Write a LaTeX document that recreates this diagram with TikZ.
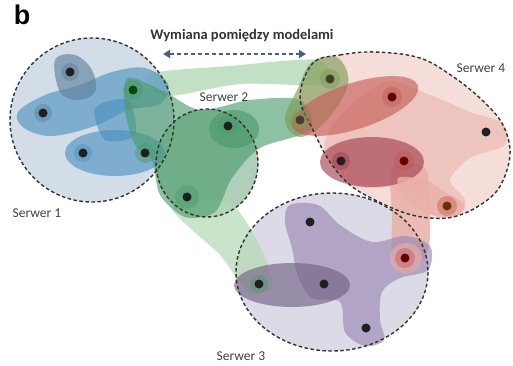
\documentclass[tikz,border=0pt]{standalone}
\usepackage{fontspec}
\setmainfont{Carlito}
\newfontfamily\bfam{Liberation Sans}
\usetikzlibrary{arrows.meta}
\definecolor{bgone}{HTML}{D3DDE8}
\definecolor{bgtwo}{HTML}{AFCFBB}
\definecolor{bgthree}{HTML}{DCDAE6}
\definecolor{bgfour}{HTML}{F5DDD9}
\definecolor{mblue}{HTML}{4A90BF}
\definecolor{msteel}{HTML}{5D7F9C}
\definecolor{mgreen}{HTML}{4A9A6C}
\definecolor{lgreen}{HTML}{B3D9B5}
\definecolor{molive}{HTML}{7D9A52}
\definecolor{mred}{HTML}{C45A55}
\definecolor{mpink}{HTML}{EAB0A8}
\definecolor{mcrim}{HTML}{A03A4C}
\definecolor{mpurp}{HTML}{9983B0}
\definecolor{dpurp}{HTML}{6F5F82}
\definecolor{arrowc}{HTML}{4F5F78}
\tikzset{
  srv/.style={draw=black!80, line width=1.4pt, dash pattern=on 3.5pt off 2.5pt},
  blob/.style={fill=#1, fill opacity=0.62},
  dot/.style={circle, fill=black!88, inner sep=0pt, minimum size=9pt},
  halo/.style={fill=#1, fill opacity=0.45},
  lbl/.style={font=\fontsize{13.5}{15}\selectfont, text=black!75, inner sep=0pt}
}
\begin{document}
\begin{tikzpicture}[x=1pt,y=-1pt]
\useasboundingbox (0,0) rectangle (513,366);
\fill[white] (0,0) rectangle (513,366);

% coordinates
\coordinate (c1) at (92,120);
\coordinate (c2) at (207,163);
\coordinate (c3) at (332,272);
\def\srvfour{plot[smooth cycle, tension=0.6] coordinates {(313,63) (340,55) (375,52) (420,58) (455,78) (483,101) (503,125) (510,155) (499,188) (477,207) (453,217) (430,218) (405,213) (375,200) (350,185) (330,162) (313,130) (300,97)}}

% server backgrounds
\fill[bgone] (c1) circle [radius=82];
\fill[bgfour] \srvfour;
\fill[bgthree] (c3) ellipse [x radius=96, y radius=79];
\fill[bgtwo] (c2) ellipse [x radius=51, y radius=54];

% bands between servers
\fill[lgreen, fill opacity=0.8] plot[smooth cycle, tension=0.5] coordinates {(150,74) (230,66) (318,60) (322,84) (240,84) (165,96)};
\fill[lgreen, fill opacity=0.7] plot[smooth cycle, tension=0.4] coordinates {(172,208) (230,203) (262,250) (272,288) (248,292) (220,255)};
\fill[mpink, fill opacity=0.85] plot[smooth cycle, tension=0.5] coordinates {(392,168) (425,168) (430,215) (428,250) (412,272) (393,262) (392,215)};

% ---- Server 1 (blue) ----
\fill[blob=mblue] plot[smooth cycle, tension=0.6] coordinates {(18,112) (45,95) (80,85) (112,72) (145,68) (168,84) (160,104) (128,110) (95,126) (52,136) (24,128)};
\fill[blob=msteel] plot[smooth cycle, tension=0.6] coordinates {(55,60) (75,55) (92,70) (95,92) (78,100) (60,92)};
\fill[blob=mblue] plot[smooth cycle, tension=0.5] coordinates {(95,108) (128,100) (135,135) (105,140)};
\fill[blob=mblue] (115,153) ellipse [x radius=50, y radius=23];

% ---- Server 2 (green) ----
\fill[blob=mgreen] plot[smooth cycle, tension=0.5] coordinates {(128,78) (165,92) (200,110) (250,100) (300,100) (310,130) (260,148) (232,178) (215,212) (185,217) (160,195) (152,160) (135,145) (125,110)};
\fill[blob=mgreen] (234,129) ellipse [x radius=25, y radius=19];
\fill[blob=molive] plot[smooth cycle, tension=0.6] coordinates {(312,62) (338,58) (348,85) (325,122) (300,137) (285,120) (298,88)};

% ---- Server 4 (red) ----
\fill[mpink, fill opacity=0.55] plot[smooth cycle, tension=0.5] coordinates {(385,82) (430,95) (470,112) (502,123) (505,145) (470,158) (450,180) (465,200) (455,216) (430,214) (412,188) (355,186) (325,150) (338,118)};
\fill[blob=mred, rotate around={18:(355,106)}] (355,106) ellipse [x radius=66, y radius=23];
\fill[blob=mcrim] (372,162) ellipse [x radius=52, y radius=25];
\fill[mpink, fill opacity=0.8] plot[smooth cycle, tension=0.5] coordinates {(398,178) (425,180) (445,192) (465,205) (455,217) (430,214) (405,200)};

% ---- Server 3 (purple) ----
\fill[blob=mpurp] plot[smooth cycle, tension=0.55] coordinates {(290,205) (318,205) (340,225) (372,242) (405,236) (430,246) (428,270) (400,278) (382,292) (380,320) (384,340) (365,346) (345,332) (340,302) (312,298) (298,276) (292,248) (285,222)};
\fill[blob=dpurp] (292,285) ellipse [x radius=58, y radius=22];
\fill[mpink, fill opacity=0.6] (406,258) ellipse [x radius=16, y radius=15];

% server borders
\draw[srv] (c1) circle [radius=82];
\draw[srv] \srvfour;
\draw[srv] (c3) ellipse [x radius=96, y radius=79];
\draw[srv] (c2) ellipse [x radius=51, y radius=54];

% halos
\fill[halo=msteel] (70,72) circle [radius=9];
\fill[halo=msteel] (43,113) circle [radius=9];
\fill[halo=mgreen] (133,90) circle [radius=10];
\fill[halo=mblue] (83,153) circle [radius=9];
\fill[halo=mgreen] (145,153) circle [radius=10];
\fill[halo=mgreen] (228,126) circle [radius=10];
\fill[halo=mgreen] (187,197) circle [radius=12];
\fill[halo=molive] (330,79) circle [radius=10];
\fill[halo=molive] (300,120) circle [radius=10];
\fill[halo=mred] (392,97) circle [radius=10];
\fill[halo=mcrim] (341,161) circle [radius=9];
\fill[halo=mred] (404,161) circle [radius=10];
\fill[halo=mred] (447,206) circle [radius=10];
\fill[halo=mred] (405,258) circle [radius=10];
\fill[halo=mgreen] (259,284) circle [radius=9];

% dots
\node[dot] (a1) at (70,72) {};
\node[dot] (a2) at (43,113) {};
\node[dot, fill=black!70!green] (a3) at (133,90) {};
\node[dot] (a4) at (83,153) {};
\node[dot] (a5) at (145,153) {};
\node[dot] (b1) at (228,126) {};
\node[dot] (b2) at (187,197) {};
\node[dot, fill=black!70!olive] (d1) at (330,79) {};
\node[dot, fill=black!70!olive] (d2) at (300,120) {};
\node[dot, fill=black!65!red] (d3) at (392,97) {};
\node[dot] (d4) at (486,132) {};
\node[dot] (d5) at (341,161) {};
\node[dot, fill=black!60!red] (d6) at (404,161) {};
\node[dot, fill=black!60!orange] (d7) at (447,206) {};
\node[dot] (e1) at (310,222) {};
\node[dot, fill=black!60!red] (e2) at (405,258) {};
\node[dot] (e3) at (259,284) {};
\node[dot] (e4) at (324,284) {};
\node[dot] (e5) at (366,328) {};

% labels
\node[font=\bfam\bfseries\fontsize{27}{28}\selectfont, inner sep=0pt] (blab) at (22,15) {b};
\node[font=\bfseries\fontsize{14.5}{16}\selectfont, text=black!80, inner sep=0pt] (title) at (242,36) {Wymiana pomiędzy modelami};
\coordinate (al) at (163,54);
\coordinate (ar) at (306,54);
\draw[arrowc, line width=2pt, dash pattern=on 4pt off 3pt, {Triangle[length=7pt,width=8pt]}-{Triangle[length=7pt,width=8pt]}] (al) -- (ar);
\node[lbl] (s1) at (37,213) {Serwer 1};
\node[lbl] (s2) at (224,97) {Serwer 2};
\node[lbl] (s3) at (241,356) {Serwer 3};
\node[lbl] (s4) at (481,68) {Serwer 4};
\end{tikzpicture}
\end{document}
